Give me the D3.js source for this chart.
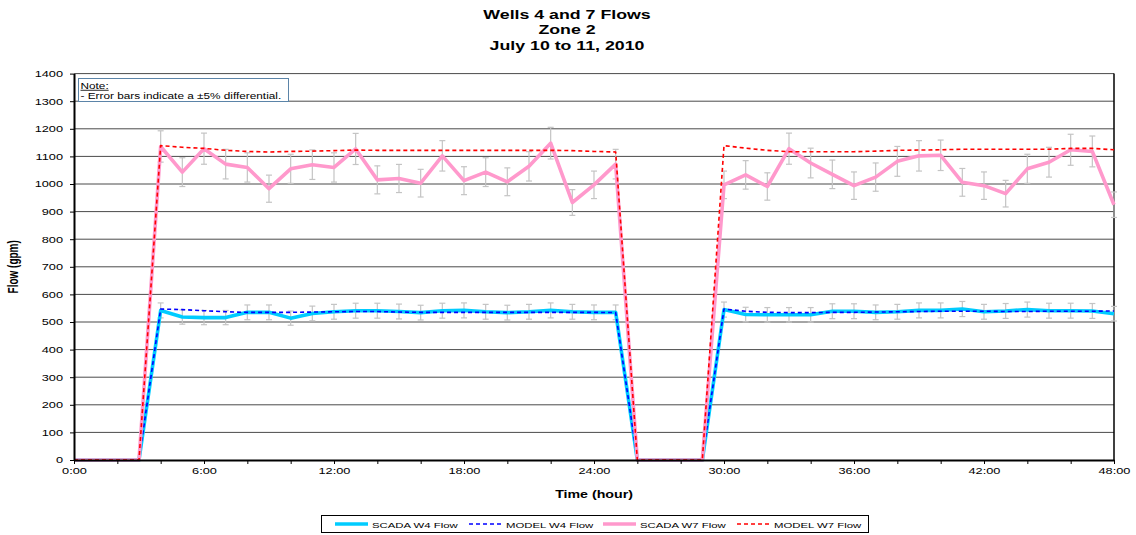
<!DOCTYPE html>
<html>
<head>
<meta charset="utf-8">
<script src="https://cdn.jsdelivr.net/npm/d3@7"></script>
<style>
  body { margin: 0; background: #fff; }
  svg { display: block; font-family: "Liberation Sans", Arial, sans-serif; }
</style>
</head>
<body>
<svg id="chart" width="1136" height="535"></svg>
<script>
// Hourly flow records, hours 0..48
const hours = d3.range(0, 49);

const scadaW4 = [0, 0, 0, 0, 542, 518, 516, 516, 535, 535, 514, 531, 537, 541, 541, 538, 534, 541, 542, 537,
  534, 537, 542, 537, 535, 535, 0, 0, 0, 0, 545, 527, 526, 526, 526, 539, 539, 535, 537, 542,
  542, 547, 537, 540, 545, 541, 541, 540, 530];

const modelW4 = [0, 0, 0, 0, 547, 545, 541, 537, 535, 535, 535, 536, 537, 538, 538, 536, 535, 535, 535, 535,
  535, 535, 535, 535, 535, 534, 0, 0, 0, 0, 547, 539, 535, 534, 534, 535, 535, 536, 537, 538,
  539, 539, 539, 538, 538, 539, 539, 539, 540];

const scadaW7 = [0, 0, 0, 0, 1136, 1043, 1128, 1072, 1060, 983, 1055, 1070, 1060, 1127, 1015, 1020, 1003, 1102, 1012, 1043,
  1008, 1064, 1148, 933, 997, 1072, 0, 0, 0, 0, 997, 1033, 991, 1128, 1076, 1035, 994, 1025, 1082, 1102,
  1104, 1006, 994, 965, 1055, 1079, 1124, 1118, 925];

const modelW7 = [0, 0, 0, 0, 1139, 1133, 1129, 1122, 1118, 1116, 1118, 1119, 1121, 1123, 1122, 1122, 1122, 1122, 1122, 1122,
  1122, 1122, 1122, 1121, 1118, 1116, 0, 0, 0, 0, 1139, 1130, 1122, 1117, 1117, 1117, 1117, 1119, 1122, 1123,
  1124, 1126, 1126, 1126, 1126, 1126, 1129, 1129, 1124];

const titleLines = ["Wells 4 and 7 Flows", "Zone 2", "July 10 to 11, 2010"];
const xTickHours = d3.range(0, 49, 2);
const yTicks = d3.range(0, 1401, 100);
const errorPct = 0.05;

const seriesList = [
  { name: "SCADA W4 Flow", values: scadaW4, color: "#00ccff", width: 3.6, dash: null, bars: true },
  { name: "MODEL W4 Flow", values: modelW4, color: "#0000ff", width: 1.6, dash: "4,3", bars: false },
  { name: "SCADA W7 Flow", values: scadaW7, color: "#ff99cc", width: 3.6, dash: null, bars: true },
  { name: "MODEL W7 Flow", values: modelW7, color: "#ff0000", width: 1.6, dash: "4,3", bars: false }
];

const svg = d3.select("#chart");
const plotLeft = 74, plotRight = 1114, plotTop = 73.6, plotBottom = 460;
const wide = 1.42; // horizontal widening applied to all lettering

const x = d3.scaleLinear().domain([0, 48]).range([plotLeft, plotRight]);
const y = d3.scaleLinear().domain([0, 1400]).range([plotBottom, plotTop]);

// Places a horizontally widened text at (tx, ty)
function label(parent, tx, ty, str, size, opts = {}) {
  return parent.append("text")
    .attr("transform", `translate(${tx},${ty}) scale(${wide},1)`)
    .attr("text-anchor", opts.anchor || "start")
    .attr("font-size", size)
    .attr("font-weight", opts.bold ? "bold" : null)
    .attr("text-decoration", opts.underline ? "underline" : null)
    .text(str);
}

// Title
const titleG = svg.append("g");
titleLines.forEach((t, i) => label(titleG, 567, 18.5 + i * 15.5, t, 12.5, { anchor: "middle", bold: true }));

// Horizontal gridlines
svg.append("g").selectAll("line").data(yTicks.slice(1)).join("line")
  .attr("x1", plotLeft).attr("x2", plotRight)
  .attr("y1", d => y(d)).attr("y2", d => y(d))
  .attr("stroke", "#4a4a4a").attr("stroke-width", 1);

// Right border of plot area
svg.append("line")
  .attr("x1", plotRight).attr("x2", plotRight).attr("y1", plotTop).attr("y2", plotBottom)
  .attr("stroke", "#000").attr("stroke-width", 1.5);

// Error bars (±5% of SCADA readings)
const cap = 3;
seriesList.filter(s => s.bars).forEach(s => {
  const g = svg.append("g").attr("stroke", "#c4c4c4").attr("stroke-width", 1.2);
  const pts = hours.map((h, i) => ({ h, v: s.values[i] })).filter(d => d.v > 0);
  pts.forEach(d => {
    const lo = y(d.v * (1 - errorPct)), hi = y(d.v * (1 + errorPct)), cx = x(d.h);
    g.append("line").attr("x1", cx).attr("x2", cx).attr("y1", lo).attr("y2", hi);
    g.append("line").attr("x1", cx - cap).attr("x2", cx + cap).attr("y1", lo).attr("y2", lo);
    g.append("line").attr("x1", cx - cap).attr("x2", cx + cap).attr("y1", hi).attr("y2", hi);
  });
});

// Series lines
const line = d3.line().x((d, i) => x(hours[i])).y(d => y(d));
seriesList.forEach(s => {
  svg.append("path")
    .datum(s.values)
    .attr("d", line)
    .attr("fill", "none")
    .attr("stroke", s.color)
    .attr("stroke-width", s.width)
    .attr("stroke-linejoin", "round")
    .attr("stroke-dasharray", s.dash);
});

// Axes
const yAxis = svg.append("g")
  .attr("transform", `translate(${plotLeft},0)`)
  .call(d3.axisLeft(y).tickValues(yTicks).tickSize(4).tickSizeOuter(0).tickFormat(d3.format("d")));
const xAxis = svg.append("g")
  .attr("transform", `translate(0,${plotBottom})`)
  .call(d3.axisBottom(x).tickValues(xTickHours).tickSize(4).tickSizeOuter(0)
    .tickFormat(h => h % 6 === 0 ? `${h}:00` : ""));
[yAxis, xAxis].forEach(a => {
  a.select(".domain").attr("stroke", "#000").attr("stroke-width", 2);
  a.selectAll(".tick line").attr("stroke", "#000");
  a.selectAll(".tick text").attr("font-size", 9).attr("fill", "#000")
    .attr("font-family", "'Liberation Sans', Arial, sans-serif")
    .attr("transform", `scale(${wide},1)`);
});
yAxis.selectAll(".tick text").attr("x", -7.7);
xAxis.selectAll(".tick text").attr("y", 8);

// Axis titles
svg.append("text")
  .attr("transform", `translate(18,${(plotTop + plotBottom) / 2}) rotate(-90) scale(1,${wide})`)
  .attr("text-anchor", "middle").attr("font-size", 10).attr("font-weight", "bold")
  .text("Flow (gpm)");
label(svg, (plotLeft + plotRight) / 2, 497.5, "Time (hour)", 10, { anchor: "middle", bold: true });

// Note box
const note = svg.append("g");
note.append("rect")
  .attr("x", 78.5).attr("y", 78.5).attr("width", 210).attr("height", 23)
  .attr("fill", "#fff").attr("stroke", "#5b84a8").attr("stroke-width", 1);
label(note, 80.5, 89, "Note:", 8.3, { underline: true });
label(note, 80.5, 99, "- Error bars indicate a \u00b15% differential.", 8.3);

// Legend
const legend = svg.append("g");
legend.append("rect")
  .attr("x", 321.5).attr("y", 515.5).attr("width", 547).attr("height", 17)
  .attr("fill", "#fff").attr("stroke", "#000").attr("stroke-width", 1);
const legendX = [335, 469, 603, 737];
seriesList.forEach((s, i) => {
  const lx = legendX[i];
  legend.append("line")
    .attr("x1", lx).attr("x2", lx + 33).attr("y1", 524).attr("y2", 524)
    .attr("stroke", s.color).attr("stroke-width", s.dash ? 1.6 : 3.6)
    .attr("stroke-dasharray", s.dash);
  label(legend, lx + 37, 527.5, s.name, 8);
});
</script>
</body>
</html>
